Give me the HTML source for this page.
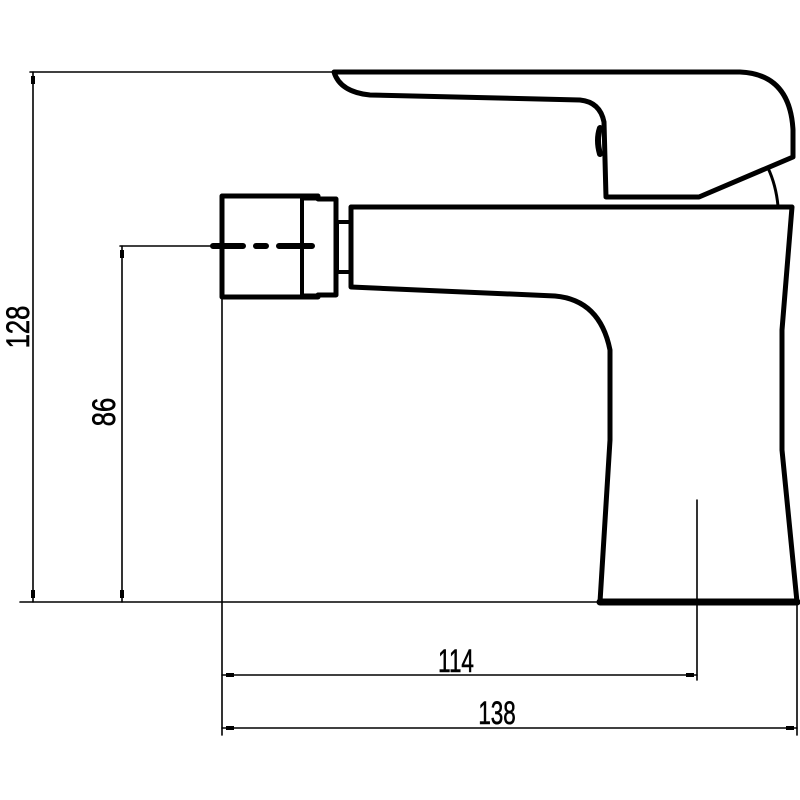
<!DOCTYPE html>
<html><head><meta charset="utf-8"><style>
html,body{margin:0;padding:0;background:#fff}
svg{display:block}
text{font-family:"Liberation Sans",sans-serif;fill:#000;stroke:#000;stroke-width:0.6}
</style></head><body>
<svg width="800" height="800" viewBox="0 0 800 800" xmlns="http://www.w3.org/2000/svg">
<g fill="none" stroke="#000" stroke-linejoin="round" stroke-linecap="round">
<path d="M334 72 L740 72 Q790 74 793 130 L793 157 L699 197 L606 197 L604 122 Q600 102 580 100 L370 95 Q340 92 334 72 Z" stroke-width="5"/>
<path d="M600 128 Q596 140 600 154" stroke-width="6"/>
<path d="M768 168 Q776 185 778 206" stroke-width="3"/>
<path d="M351 207 L792 207 L782 330 L782 450 L797 602 L600 602 L610 440 L610 350 Q600 300 555 296 L351 287 Z" stroke-width="5"/>
<line x1="600" y1="602" x2="797" y2="602" stroke-width="7"/>
<rect x="337" y="222" width="14" height="50" stroke-width="4"/>
<path d="M222 196 L318 196 L318 199 L336 199 L336 295 L318 295 L318 297 L222 297 Z" stroke-width="5"/>
<line x1="302" y1="196" x2="302" y2="297" stroke-width="4"/>
<line x1="302" y1="199" x2="318" y2="199" stroke-width="3"/>
<line x1="302" y1="295" x2="318" y2="295" stroke-width="3"/>
<path d="M213 246 L243 246 M256 246 L266 246 M279 246 L312 246" stroke-width="6"/>
<g stroke-width="1.6">
<line x1="30" y1="72" x2="334" y2="72"/>
<line x1="20" y1="602" x2="600" y2="602"/>
<line x1="33" y1="72" x2="33" y2="602"/>
<line x1="120" y1="246" x2="213" y2="246"/>
<line x1="122" y1="246" x2="122" y2="602"/>
<line x1="222" y1="297" x2="222" y2="735"/>
<line x1="697" y1="500" x2="697" y2="680"/>
<line x1="797" y1="602" x2="797" y2="735"/>
<line x1="222" y1="675" x2="697" y2="675"/>
<line x1="222" y1="728" x2="797" y2="728"/>
</g>
</g>
<g fill="#000">
<rect x="31" y="76" width="4" height="8"/><rect x="31" y="590" width="4" height="8"/>
<rect x="120" y="250" width="4" height="8"/><rect x="120" y="590" width="4" height="8"/>
<rect x="226" y="673" width="8" height="4"/><rect x="686" y="673" width="8" height="4"/>
<rect x="226" y="726" width="8" height="4"/><rect x="786" y="726" width="8" height="4"/>
</g>
<text transform="translate(29,327) rotate(-90) scale(0.8,1)" text-anchor="middle" font-size="32">128</text>
<text transform="translate(115,412) rotate(-90) scale(0.8,1)" text-anchor="middle" font-size="32">86</text>
<text transform="translate(456,672) scale(0.7,1)" text-anchor="middle" font-size="32">114</text>
<text transform="translate(497,724) scale(0.7,1)" text-anchor="middle" font-size="32">138</text>
</svg>
</body></html>
